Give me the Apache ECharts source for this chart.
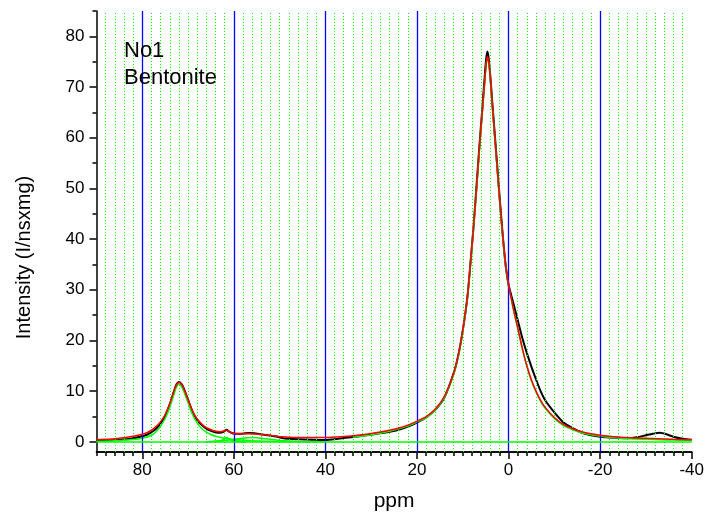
<!DOCTYPE html>
<html>
<head>
<meta charset="utf-8">
<script src="https://cdn.jsdelivr.net/npm/echarts@6/dist/echarts.min.js"></script>
<style>
html,body{margin:0;padding:0;background:#fff;}
#chart{width:707px;height:519px;}
</style>
</head>
<body>
<div id="chart"></div>
<script>
// ---- data ----
const ppm = [90, 88, 86, 84, 82, 80, 79, 78, 77, 76, 75, 74, 73, 72.5, 72, 71.5, 71, 70, 69, 68, 67, 66, 65, 64, 63, 62.3, 61.6, 61, 60.3, 59.5, 58.5, 57.5, 56.5, 55.5, 54.5, 53.5, 52.5, 51.5, 50.5, 49.5, 48, 46, 44, 42, 40, 38, 36, 34, 32, 30, 28, 26, 24, 22, 20, 18, 16, 14, 12, 11, 10, 9, 8.3, 7.6, 7.0, 6.4, 5.8, 5.3, 4.9, 4.6, 4.2, 3.6, 3.0, 2.4, 1.8, 1.2, 0.6, 0, -1, -2, -3, -4, -5, -6, -7, -8, -10, -12, -14, -16, -18, -20, -22, -24, -26, -28, -30, -31.5, -33, -34.5, -36, -38, -40];
const expI = [0.2, 0.25, 0.3, 0.45, 0.7, 1.1, 1.4, 1.9, 2.6, 3.6, 5.1, 7.4, 10.2, 11.4, 11.8, 11.5, 10.7, 8.3, 5.9, 4.3, 3.3, 2.6, 2.2, 1.9, 1.8, 2.0, 2.4, 2.0, 1.7, 1.6, 1.6, 1.7, 1.75, 1.7, 1.55, 1.4, 1.3, 1.15, 1.0, 0.75, 0.6, 0.5, 0.45, 0.4, 0.35, 0.5, 0.75, 0.95, 1.2, 1.45, 1.7, 2.0, 2.4, 3.0, 3.8, 4.8, 6.3, 8.8, 13.5, 17, 22, 28.5, 35.5, 43, 50.5, 58, 65, 71, 75.5, 77, 74.5, 67.5, 60.5, 53.5, 46.5, 40, 34.5, 31, 27.5, 24, 20.5, 17.5, 14.8, 12.3, 10.0, 8.2, 5.8, 3.8, 2.7, 1.8, 1.3, 1.0, 0.85, 0.75, 0.7, 0.9, 1.3, 1.6, 1.8, 1.5, 1.0, 0.6, 0.4];
const fitI = [0.4, 0.5, 0.6, 0.8, 1.1, 1.5, 1.8, 2.3, 3.0, 4.0, 5.4, 7.5, 10.2, 11.3, 11.7, 11.4, 10.6, 8.3, 6.0, 4.5, 3.5, 2.8, 2.4, 2.1, 2.0, 2.1, 2.3, 2.0, 1.75, 1.6, 1.6, 1.6, 1.6, 1.55, 1.5, 1.4, 1.3, 1.2, 1.1, 1.0, 0.9, 0.85, 0.85, 0.85, 0.85, 0.95, 1.05, 1.2, 1.4, 1.65, 1.95, 2.3, 2.75, 3.3, 4.1, 5.0, 6.5, 9.0, 13.5, 17, 22, 28.5, 35.5, 43, 50, 57.5, 64.5, 70, 74.5, 76, 74, 67, 60, 53, 46, 40, 34.5, 31, 26.5, 22.5, 18.5, 15, 12.2, 10, 8.2, 6.8, 4.8, 3.4, 2.6, 2.0, 1.6, 1.3, 1.1, 0.95, 0.85, 0.75, 0.7, 0.65, 0.6, 0.55, 0.5, 0.45, 0.4];

const comp72Ppm = [90, 86, 82, 80, 78, 77, 76, 75, 74, 73, 72.5, 72, 71.5, 71, 70, 69, 68, 67, 66, 65, 64, 62, 60, 57, 54, 50, 45, 40];
const comp72 = [0.1, 0.2, 0.45, 0.7, 1.3, 2.0, 3.1, 4.6, 6.8, 9.6, 10.9, 11.4, 11.0, 10.1, 7.7, 5.3, 3.7, 2.6, 1.9, 1.45, 1.1, 0.7, 0.45, 0.25, 0.15, 0.08, 0.04, 0];
const comp61Ppm = [65, 63.5, 62.5, 62, 61.6, 61.2, 60.6, 60, 59, 57.5];
const comp61 = [0, 0.15, 0.4, 0.65, 0.85, 0.7, 0.4, 0.2, 0.07, 0];
const comp56Ppm = [66, 63, 61, 59, 57, 56, 55, 53, 51, 49, 46, 42];
const comp56 = [0, 0.15, 0.35, 0.6, 0.8, 0.85, 0.8, 0.6, 0.4, 0.2, 0.08, 0];
const comp5Ppm = [34, 30, 26, 22, 20, 18, 16, 14, 12, 11, 10, 9, 8.3, 7.6, 7.0, 6.4, 5.8, 5.3, 4.9, 4.6, 4.2, 3.6, 3.0, 2.4, 1.8, 1.2, 0.6, 0, -1, -2, -3, -4, -5, -6, -7, -8, -10, -12, -14, -16, -18, -20, -22, -24, -26, -28, -30, -33, -36, -40];
const comp5 = [0.9, 1.4, 2.1, 3.1, 3.9, 4.8, 6.3, 8.8, 13.3, 16.8, 21.8, 28.3, 35.3, 42.8, 49.8, 57.3, 64.3, 69.8, 74.3, 75.8, 73.8, 66.8, 59.8, 52.8, 45.8, 39.8, 34.3, 30.8, 26.3, 22.3, 18.3, 14.8, 12.0, 9.8, 8.0, 6.6, 4.6, 3.2, 2.4, 1.8, 1.4, 1.1, 0.9, 0.75, 0.65, 0.55, 0.5, 0.4, 0.35, 0.3];

// grid line positions (ppm)
const majorGrid = [80, 60, 40, 20, 0, -20];
const minorGrid = [88, 86, 84, 82, 78, 76, 74, 72, 70, 68, 66, 64, 62, 58, 56, 54, 52, 50, 48, 46, 44, 42, 38, 36, 34, 32, 30, 28, 26, 24, 22, 18, 16, 14, 12, 10, 8, 6, 4, 2, -2, -4, -6, -8, -10, -12, -14, -16, -18, -22, -24, -26, -28, -30, -32, -34, -36, -38];
const yMajorTicks = [0, 10, 20, 30, 40, 50, 60, 70, 80];
const yMinorTicks = [5, 15, 25, 35, 45, 55, 65, 75, 85];

const pairs = (xs, ys) => xs.map((x, i) => [x, ys[i]]);
const FONT = '"Liberation Sans", Arial, sans-serif';

const chart = echarts.init(document.getElementById('chart'), null, {renderer: 'canvas'});
const axisLineStyle = {color: '#000', width: 1.5};
const greenLine = {color: '#00ff00', width: 1.5};
const blueStyle = {color: '#0000ff', width: 1.3, type: 'solid', opacity: 1};
const dotStyle = {color: '#00ff00', width: 1, type: [1, 2], opacity: 1};

const option = {
  animation: false,
  backgroundColor: '#fff',
  grid: {left: 96.5, right: 12.5, top: 11, bottom: 67, containLabel: false},
  graphic: [{
    type: 'text', left: 124, top: 37, z: 100,
    style: {text: 'No1\nBentonite', font: '22px ' + FONT, fill: '#000', lineHeight: 27}
  }],
  xAxis: [
    {
      type: 'value', inverse: true, min: -40, max: 90, interval: 2, position: 'bottom',
      axisLine: {show: true, onZero: false, lineStyle: axisLineStyle},
      axisTick: {show: true, length: 4, lineStyle: {color: '#000', width: 1.5}},
      axisLabel: {show: false},
      splitLine: {show: false}
    },
    {
      type: 'value', inverse: true, min: -40, max: 90, interval: 20, position: 'bottom',
      axisLine: {show: true, onZero: false, lineStyle: axisLineStyle},
      axisTick: {show: true, length: 7, lineStyle: {color: '#000', width: 1.5}},
      axisLabel: {show: true, color: '#000', fontSize: 17, fontFamily: FONT, margin: 10, showMaxLabel: false},
      splitLine: {show: false},
      name: 'ppm', nameLocation: 'middle', nameGap: 39,
      nameTextStyle: {color: '#000', fontSize: 21, fontFamily: FONT}
    }
  ],
  yAxis: [
    {
      type: 'value', min: -2, max: 85, position: 'left',
      axisLine: {show: true, onZero: false, lineStyle: axisLineStyle},
      axisTick: {show: true, length: 7, customValues: yMajorTicks, lineStyle: {color: '#000', width: 1.5}},
      axisLabel: {show: true, customValues: yMajorTicks, color: '#000', fontSize: 17, fontFamily: FONT, margin: 12},
      splitLine: {show: false},
      name: 'Intensity (I/nsxmg)', nameLocation: 'middle', nameGap: 62,
      nameTextStyle: {color: '#000', fontSize: 20, fontFamily: FONT, padding: [0, 52, 0, 0]}
    },
    {
      type: 'value', min: -2, max: 85, position: 'left',
      axisLine: {show: false, onZero: false},
      axisTick: {show: true, length: 4, customValues: yMinorTicks, lineStyle: {color: '#000', width: 1.5}},
      axisLabel: {show: false, customValues: yMinorTicks},
      splitLine: {show: false}
    }
  ],
  series: [
    {
      name: 'minorGrid', type: 'line', data: [], silent: true, z: 1, color: '#00ff00',
      markLine: {
        silent: true, symbol: 'none', label: {show: false}, animation: false,
        emphasis: {disabled: true},
        lineStyle: dotStyle,
        data: minorGrid.map(v => ({xAxis: v}))
      }
    },
    {
      name: 'majorGrid', type: 'line', data: [], silent: true, z: 2, color: '#0000ff',
      markLine: {
        silent: true, symbol: 'none', label: {show: false}, animation: false,
        emphasis: {disabled: true},
        lineStyle: blueStyle,
        data: majorGrid.map(v => ({xAxis: v}))
      }
    },
    {
      name: 'experiment', type: 'line', data: pairs(ppm, expI), showSymbol: false, smooth: 0.25, z: 3,
      lineStyle: {color: '#000', width: 2}
    },
    {
      name: 'comp5', type: 'line', data: pairs(comp5Ppm, comp5), showSymbol: false, smooth: 0.25, z: 4,
      lineStyle: greenLine
    },
    {
      name: 'comp72', type: 'line', data: pairs(comp72Ppm, comp72), showSymbol: false, smooth: 0.3, z: 4,
      lineStyle: greenLine
    },
    {
      name: 'comp61', type: 'line', data: pairs(comp61Ppm, comp61), showSymbol: false, smooth: 0.3, z: 4,
      lineStyle: greenLine
    },
    {
      name: 'comp56', type: 'line', data: pairs(comp56Ppm, comp56), showSymbol: false, smooth: 0.3, z: 4,
      lineStyle: greenLine,
      markLine: {
        silent: true, symbol: 'none', label: {show: false}, animation: false,
        lineStyle: {color: '#00ff00', width: 1.5, type: 'solid'},
        data: [{yAxis: 0}]
      }
    },
    {
      name: 'fit', type: 'line', data: pairs(ppm, fitI), showSymbol: false, smooth: 0.25, z: 5,
      lineStyle: {color: '#ff0000', width: 1.5}
    }
  ]
};
chart.setOption(option);
</script>
</body>
</html>
